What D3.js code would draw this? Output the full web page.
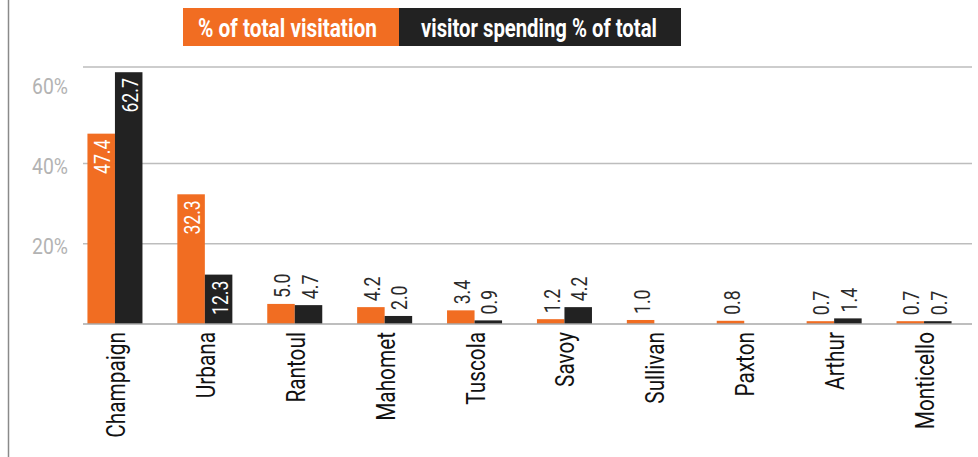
<!DOCTYPE html>
<html>
<head>
<meta charset="utf-8">
<script src="https://cdn.jsdelivr.net/npm/d3@7"></script>
<style>
  html, body { margin: 0; padding: 0; background: #fff; }
  svg { display: block; }
  text { font-family: "Roboto", "Liberation Sans", sans-serif; }
</style>
</head>
<body>
<svg id="chart" width="978" height="457"></svg>
<script>
const categories = ["Champaign","Urbana","Rantoul","Mahomet","Tuscola","Savoy","Sullivan","Paxton","Arthur","Monticello"];
const visitation = [47.4, 32.3, 5.0, 4.2, 3.4, 1.2, 1.0, 0.8, 0.7, 0.7];
const spending   = [62.7, 12.3, 4.7, 2.0, 0.9, 4.2, null, null, 1.4, 0.7];
const seriesNames = ["% of total visitation", "visitor spending % of total"];
const yTicks = [20, 40, 60];
const yMax = 64;

const colors = ["#f16d22", "#222222"];
const svg = d3.select("#chart");

const x0 = d3.scaleBand().domain(categories).range([70, 969]).paddingInner(0.388).paddingOuter(0.194);
const x1 = d3.scaleBand().domain([0, 1]).range([0, x0.bandwidth()]);
const y = d3.scaleLinear().domain([0, yMax]).range([324, 67]);

// left border
svg.append("line").attr("x1", 8.5).attr("x2", 8.5).attr("y1", 0).attr("y2", 457)
  .attr("stroke", "#8a8a8a").attr("stroke-width", 1.5);

// gridlines (20, 40 and top)
[20, 40, yMax].forEach(v => {
  svg.append("line").attr("x1", 83).attr("x2", 972).attr("y1", y(v)).attr("y2", y(v))
    .attr("stroke", "#bdbdbd").attr("stroke-width", 1.5);
});

// y tick labels (condensed horizontally)
svg.append("g").selectAll("text").data(yTicks).join("text")
  .attr("transform", d => `translate(68,${y(d) + 3}) scale(0.88,1)`)
  .attr("dy", "0.35em")
  .attr("text-anchor", "end").attr("fill", "#b3b3b3").attr("font-size", 22)
  .text(d => d + "%");

const rows = categories.map((c, i) => ({ cat: c, vals: [visitation[i], spending[i]] }));

const groups = svg.append("g").selectAll("g").data(rows).join("g")
  .attr("transform", d => `translate(${x0(d.cat)},0)`);

groups.selectAll("rect").data(d => d.vals.map((v, k) => ({ v, k })).filter(e => e.v != null)).join("rect")
  .attr("x", e => x1(e.k)).attr("width", x1.bandwidth())
  .attr("y", e => y(e.v)).attr("height", e => y(0) - y(e.v))
  .attr("fill", e => colors[e.k]);

groups.selectAll("text.val").data(d => d.vals.map((v, k) => ({ v, k })).filter(e => e.v != null)).join("text")
  .attr("class", "val")
  .attr("transform", e => {
    const cx = x1(e.k) + x1.bandwidth() / 2;
    const inside = e.v > 10;
    const ty = inside ? y(e.v) + 6 : y(e.v) - 6;
    return `translate(${cx},${ty}) rotate(-90) scale(0.8,1)`;
  })
  .attr("text-anchor", e => e.v > 10 ? "end" : "start")
  .attr("dy", 9)
  .attr("font-size", 22)
  .attr("fill", e => e.v > 10 ? "#ffffff" : "#2a2a2a")
  .text(e => e.v.toFixed(1));

// baseline
svg.append("line").attr("x1", 83).attr("x2", 972).attr("y1", y(0)).attr("y2", y(0))
  .attr("stroke", "#a8a8a8").attr("stroke-width", 1.5);

// category labels
svg.append("g").selectAll("text").data(categories).join("text")
  .attr("transform", c => `translate(${x0(c) + x0.bandwidth() / 2},332) rotate(-90) scale(0.8,1)`)
  .attr("text-anchor", "end").attr("dy", 10)
  .attr("font-size", 26).attr("fill", "#111")
  .text(c => c);

// legend
const legend = [
  { x: 183, w: 216, tx: 198, tl: 179 },
  { x: 399, w: 282, tx: 421, tl: 236 }
];
legend.forEach((l, i) => {
  svg.append("rect").attr("x", l.x).attr("y", 8).attr("width", l.w).attr("height", 38).attr("fill", colors[i]);
  const t = svg.append("text")
    .attr("font-size", 26).attr("font-weight", "bold").attr("fill", "#fff")
    .text(seriesNames[i]);
  const natural = t.node().getComputedTextLength();
  const s = l.tl / natural;
  t.attr("transform", `translate(${l.tx},37) scale(${s},1)`);
});
</script>
</body>
</html>
